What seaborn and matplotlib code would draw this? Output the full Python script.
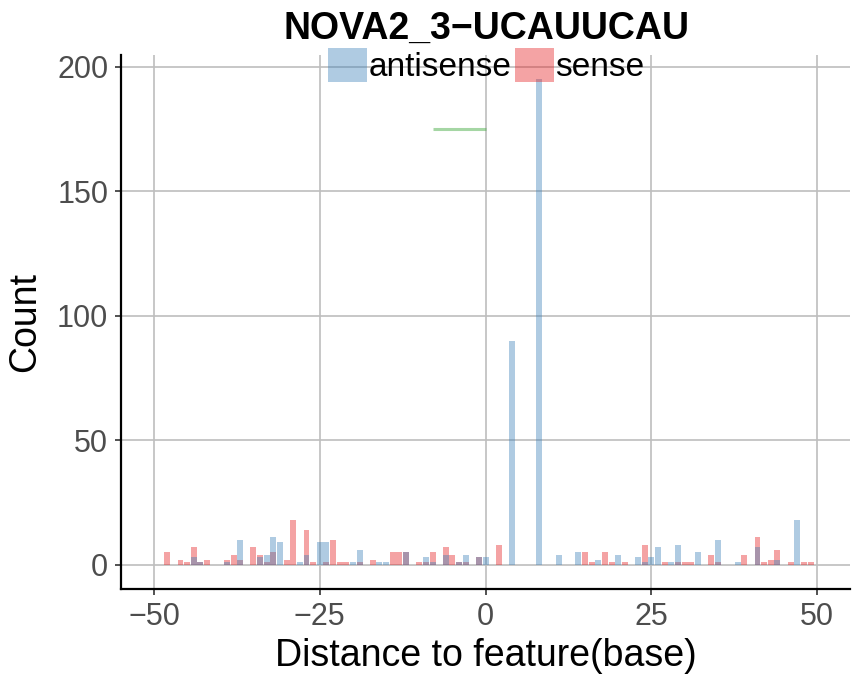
import matplotlib
matplotlib.use("Agg")
import matplotlib.pyplot as plt
import seaborn as sns
import pandas as pd
from matplotlib.patches import Patch

# counts per distance
antisense_pos = [-44, -43, -39, -37, -34, -33, -32, -31, -28, -27, -25, -24, -20, -19,
                 -16, -15, -12, -9, -8, -6, -4, -3, -1, 0, 4, 8, 11, 14, 17, 20, 23,
                 24, 25, 26, 28, 29, 32, 35, 38, 41, 44, 47]
antisense_count = [3, 1, 1, 10, 3, 4, 11, 9, 1, 4, 9, 9, 1, 6,
                   1, 1, 5, 3, 1, 4, 1, 4, 3, 3, 90, 195, 4, 5, 2, 4, 3,
                   1, 3, 7, 1, 8, 5, 10, 1, 7, 2, 18]
sense_pos = [-48, -46, -45, -44, -43, -42, -39, -38, -37, -35, -34, -33, -32, -30,
             -29, -27, -26, -24, -23, -22, -21, -19, -17, -14, -13, -12, -10, -9,
             -8, -6, -5, -4, -3, -1, 2, 15, 16, 18, 19, 21, 24, 27, 29, 30, 31,
             34, 35, 39, 41, 42, 43, 44, 46, 48, 49]
sense_count = [5, 2, 1, 7, 1, 2, 2, 4, 2, 7, 4, 1, 5, 2,
               18, 14, 1, 1, 10, 1, 1, 1, 2, 5, 5, 5, 1, 1,
               5, 7, 4, 1, 1, 3, 8, 5, 1, 5, 1, 1, 8, 1, 1, 1, 1,
               4, 1, 4, 11, 1, 2, 6, 1, 1, 1]

# feature span marker
feature_x = [-8, 0]
feature_y = [175, 175]

strand_order = ["antisense", "sense"]
strand_colors = {"antisense": "#377EB8", "sense": "#E41A1C"}
feature_color = "#4DAF4A"

df = pd.concat([
    pd.DataFrame({"distance": antisense_pos, "count": antisense_count, "strand": "antisense"}),
    pd.DataFrame({"distance": sense_pos, "count": sense_count, "strand": "sense"}),
], ignore_index=True)

sns.set_style("white")
plt.rcParams["font.family"] = ["Liberation Sans", "DejaVu Sans"]

fig = plt.figure(figsize=(8.64, 6.78), dpi=100)
ax = fig.add_axes([0.1406, 0.1313, 0.8432, 0.7876])

sns.histplot(data=df, x="distance", weights="count", hue="strand", hue_order=strand_order,
             palette=strand_colors, discrete=True, shrink=0.9, multiple="layer",
             alpha=0.4, linewidth=0, legend=False, ax=ax)
ax.plot(feature_x, feature_y, color=feature_color, alpha=0.5, linewidth=2.2, solid_capstyle="butt")

ax.set_xlim(-54.9, 54.95)
ax.set_ylim(-9.75, 204.75)
ax.set_xticks([-50, -25, 0, 25, 50])
ax.set_yticks([0, 50, 100, 150, 200])
ax.grid(True, color="#bebebe", linewidth=1.2)
ax.set_axisbelow(True)
for side in ["top", "right"]:
    ax.spines[side].set_visible(False)
for side in ["left", "bottom"]:
    ax.spines[side].set_color("black")
    ax.spines[side].set_linewidth(1.6)
ax.tick_params(bottom=True, left=True, length=4.5, width=1.2, color="#333333",
               labelcolor="#4d4d4d", labelsize=22, pad=5)

ax.set_xlabel("Distance to feature(base)", fontsize=27, labelpad=4, color="black")
ax.set_ylabel("Count", fontsize=27, labelpad=10, color="black")
fig.text(486 / 864, 1 - 29 / 678, "NOVA2_3\u2212UCAUUCAU", fontsize=27, fontweight="bold",
         ha="center", va="center", color="black")

handles = [Patch(facecolor=strand_colors[s], alpha=0.4, linewidth=0) for s in strand_order]
leg = fig.legend(handles, strand_order, loc="center", bbox_to_anchor=(486 / 864, 1 - 65.5 / 678),
                 ncol=2, frameon=False, fontsize=24, handlelength=1.17, handleheight=1.17,
                 handletextpad=0.05, columnspacing=0.1, borderpad=0, borderaxespad=0)
for t in leg.get_texts():
    t.set_color("black")

fig.savefig("out.png", dpi=100)
